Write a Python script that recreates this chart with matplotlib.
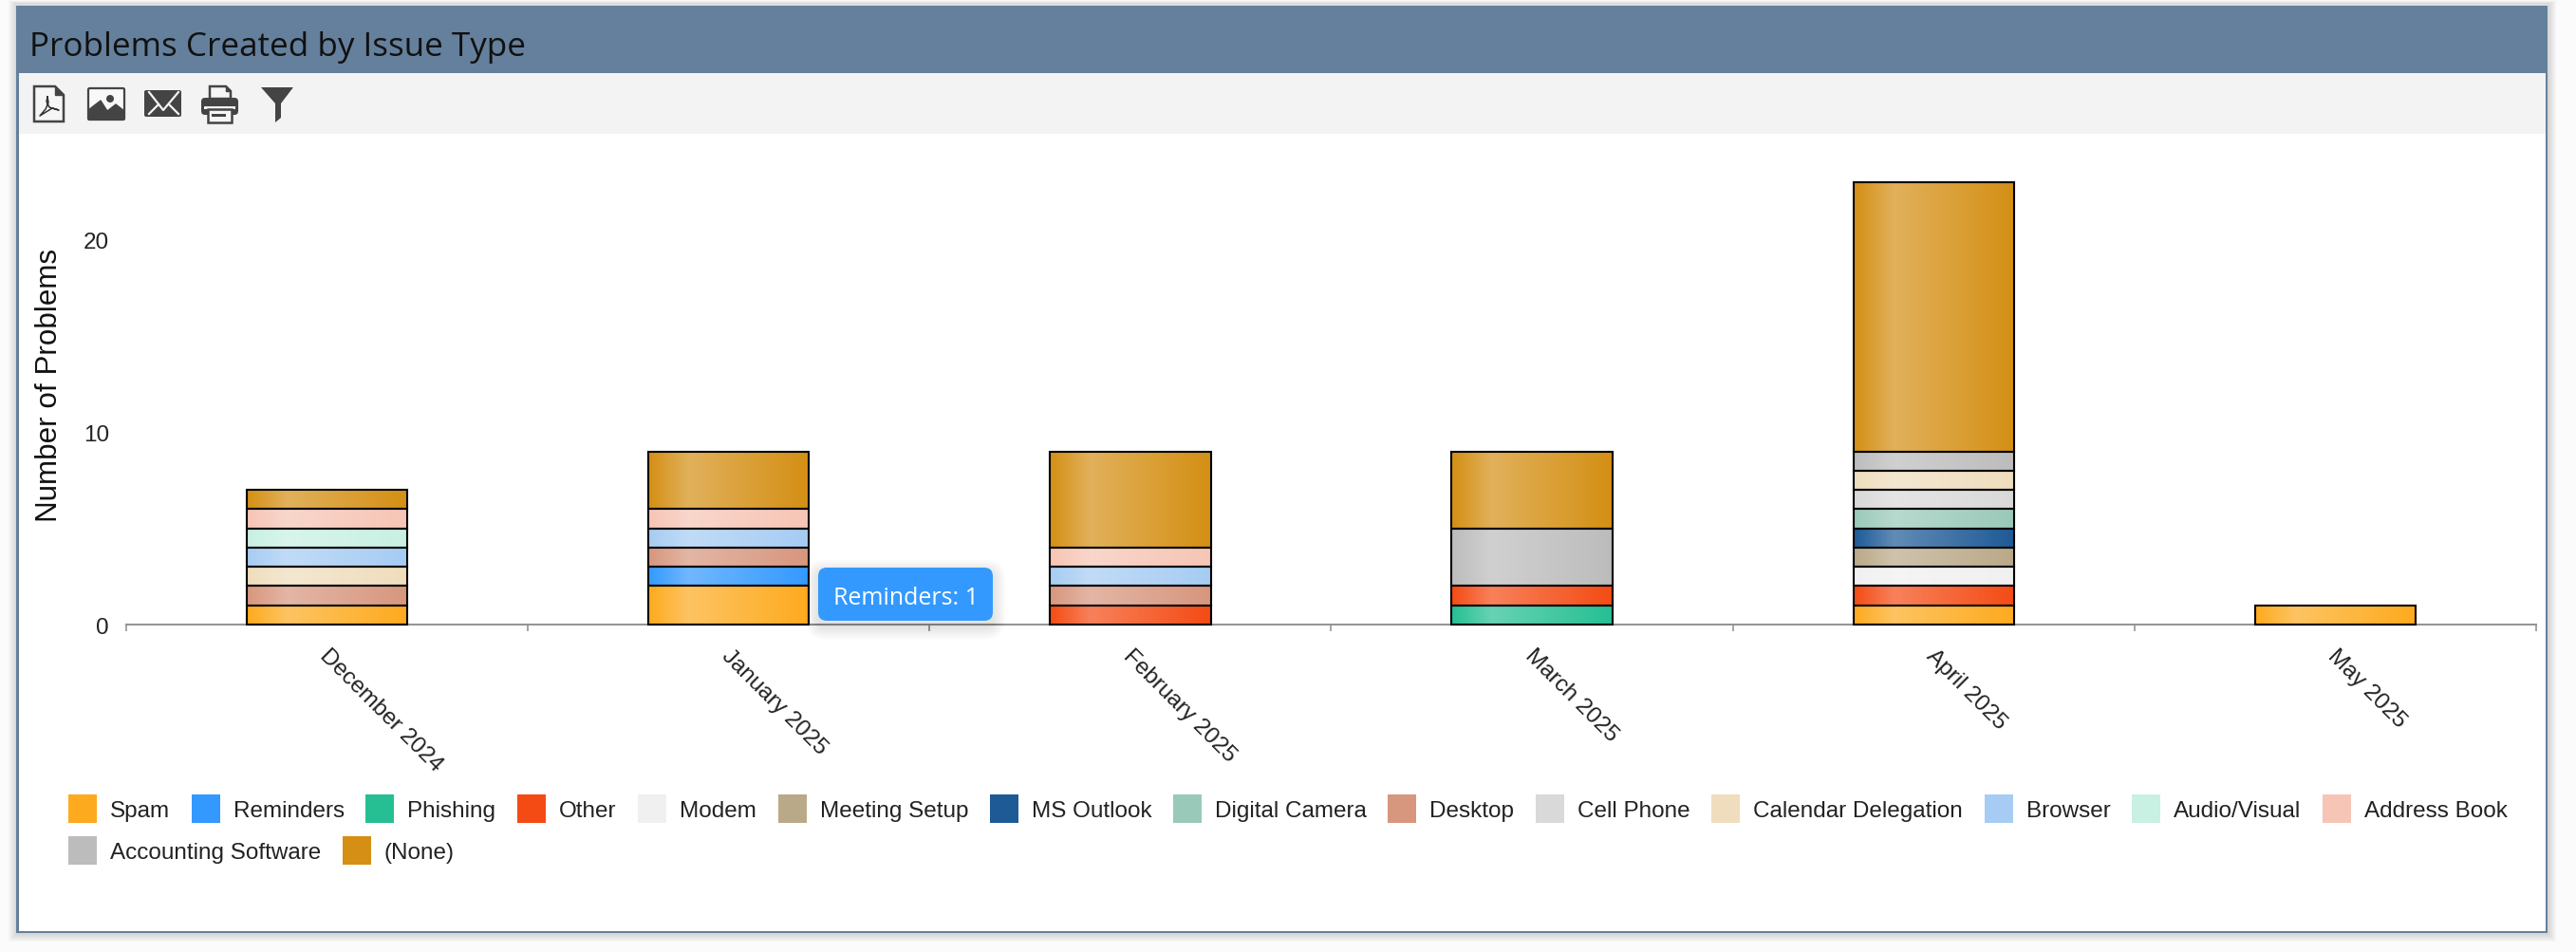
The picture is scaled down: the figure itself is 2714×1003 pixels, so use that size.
import numpy as np
import matplotlib
matplotlib.use("Agg")
import matplotlib.pyplot as plt
from matplotlib.colors import to_rgb
from matplotlib.patches import Rectangle, FancyBboxPatch, Polygon, Circle
from matplotlib.lines import Line2D

# DATA
months = ["December 2024", "January 2025", "February 2025", "March 2025", "April 2025", "May 2025"]

spam = [1, 2, 0, 0, 1, 1]
reminders = [0, 1, 0, 0, 0, 0]
phishing = [0, 0, 0, 1, 0, 0]
other = [0, 0, 1, 1, 1, 0]
modem = [0, 0, 0, 0, 1, 0]
meeting_setup = [0, 0, 0, 0, 1, 0]
ms_outlook = [0, 0, 0, 0, 1, 0]
digital_camera = [0, 0, 0, 0, 1, 0]
desktop = [1, 1, 1, 0, 0, 0]
cell_phone = [0, 0, 0, 0, 1, 0]
calendar_delegation = [1, 0, 0, 0, 1, 0]
browser = [1, 1, 1, 0, 0, 0]
audio_visual = [1, 0, 0, 0, 0, 0]
address_book = [1, 1, 1, 0, 0, 0]
accounting_software = [0, 0, 0, 3, 1, 0]
none_type = [1, 3, 5, 4, 14, 0]

series_names = ["Spam", "Reminders", "Phishing", "Other", "Modem", "Meeting Setup", "MS Outlook",
                "Digital Camera", "Desktop", "Cell Phone", "Calendar Delegation", "Browser",
                "Audio/Visual", "Address Book", "Accounting Software", "(None)"]
series_values = [spam, reminders, phishing, other, modem, meeting_setup, ms_outlook,
                 digital_camera, desktop, cell_phone, calendar_delegation, browser,
                 audio_visual, address_book, accounting_software, none_type]
series_colors = ["#fdaa1e", "#3399ff", "#26bf93", "#f44b14", "#f0f0f0", "#baa988", "#1e5a96",
                 "#99c9b9", "#d7967e", "#d9d9d9", "#efddbd", "#a6ccf3",
                 "#c8f0e3", "#f6c5b5", "#bcbcbc", "#d48f14"]
y_ticks = [0, 10, 20]

# LAYOUT (pixels of the 2714x1004 picture)
W, H = 2714, 1004
AX_LEFT, AX_RIGHT, AX_BASE = 133, 2672, 659
PX_PER_UNIT = 20.26
Y_MAX = 25
PX = 0.72           # pt per px at dpi 100
HEADER = "#64809c"
ICON = "#444444"
TEXT = "#222222"

plt.rcParams['font.family'] = ['Liberation Sans', 'DejaVu Sans']

fig = plt.figure(figsize=(W / 100, H / 100), dpi=100, facecolor="#fbfbfb")


def pixel_axes(zorder):
    a = fig.add_axes([0, 0, 1, 1], zorder=zorder)
    a.set_xlim(0, W)
    a.set_ylim(H, 0)
    a.axis("off")
    return a


bg = pixel_axes(0)

# panel shadow
for i in range(12, 0, -1):
    bg.add_patch(Rectangle((17 - i * 0.7, 5 - i * 0.3), 2668 + i * 1.4, 980 + i * 1.0,
                           fc="black", ec="none", alpha=0.012))

# panel
bg.add_patch(Rectangle((17, 5), 2668, 2, fc="#dddddd", ec="none"))
bg.add_patch(Rectangle((17.3, 7), 2667, 977, fc=HEADER, ec="none"))
bg.add_patch(Rectangle((20, 78), 2662, 904, fc="white", ec="none"))
bg.add_patch(Rectangle((20, 78), 2662, 64, fc="#f3f3f3", ec="none"))
bg.text(31, 50, "Problems Created by Issue Type", fontsize=35 * PX, color="#111111",
        family="Open Sans", ha="left", va="center")

# toolbar icons
# pdf
bg.add_patch(Polygon([(36, 92), (58, 92), (67, 101), (67, 129), (36, 129)], closed=True,
                     fc="#f6f6f6", ec=ICON, lw=1.8))
bg.add_patch(Polygon([(58, 92), (58, 101), (67, 101)], closed=True, fc=ICON, ec=ICON, lw=1))
bg.add_line(Line2D([50, 49, 52, 62, 55, 42, 48, 51, 50], [103, 108, 114, 117, 115, 123, 116, 109, 103],
                   color="#333333", lw=1.1))
# picture
bg.add_patch(FancyBboxPatch((93, 94), 38, 33, boxstyle="round,pad=0,rounding_size=1.5",
                            fc="#f8f8f8", ec=ICON, lw=1.6))
bg.add_patch(Polygon([(93, 117), (106, 107), (113, 118), (122, 111), (131, 118), (131, 127), (93, 127)],
                     closed=True, fc=ICON, ec=ICON, lw=1))
bg.add_patch(Circle((116, 105), 4, fc=ICON, ec="none"))
# mail
bg.add_patch(FancyBboxPatch((152, 96), 39, 28, boxstyle="round,pad=0,rounding_size=2",
                            fc=ICON, ec="none"))
bg.add_line(Line2D([157, 172, 188], [98, 117, 98], color="#f3f3f3", lw=1.6))
bg.add_line(Line2D([157, 167], [121, 111], color="#f3f3f3", lw=1.6))
bg.add_line(Line2D([188, 178], [121, 111], color="#f3f3f3", lw=1.6))
# printer
bg.add_patch(FancyBboxPatch((212, 104), 39, 18, boxstyle="round,pad=0,rounding_size=4",
                            fc=ICON, ec="none"))
bg.add_patch(Polygon([(221, 92), (238, 92), (243, 97), (243, 105), (221, 105)], closed=True,
                     fc="#f6f6f6", ec=ICON, lw=1.8))
bg.add_patch(Polygon([(238, 92), (238, 97), (243, 97)], closed=True, fc=ICON, ec=ICON, lw=1))
bg.add_patch(Rectangle((215, 113), 33, 2.5, fc="#f3f3f3", ec="none"))
bg.add_patch(Rectangle((219, 116), 25, 14, fc="#f6f6f6", ec=ICON, lw=1.8))
bg.add_patch(Rectangle((223, 121), 15, 2.5, fc=ICON, ec="none"))
# funnel
bg.add_patch(Polygon([(275, 93), (309, 93), (296, 110), (296, 125), (290, 130), (290, 110)],
                     closed=True, fc=ICON, ec="none"))

# CHART
ax_height = Y_MAX * PX_PER_UNIT
ax = fig.add_axes([AX_LEFT / W, (H - AX_BASE) / H, (AX_RIGHT - AX_LEFT) / W, ax_height / H], zorder=1)
ax.patch.set_alpha(0)

x = np.arange(len(months))
bottom = np.zeros(len(months))

for name, values, color in zip(series_names, series_values, series_colors):
    values = np.array(values)
    bars = ax.bar(x, values, 0.40, bottom=bottom, color=color, label=name, zorder=2)
    # brillo horizontal sobre cada barra
    base = np.array(to_rgb(color))
    t = np.linspace(0, 1, 200)
    glow = np.where(t < 0.25, t / 0.25, (1 - t) / 0.75) * 0.3
    grad = (base[None, :] * (1 - glow[:, None]) + glow[:, None])[None, :, :]
    for b, v in zip(bars, values):
        if v == 0:
            continue
        ext = (b.get_x(), b.get_x() + b.get_width(), b.get_y(), b.get_y() + b.get_height())
        ax.imshow(grad, extent=ext, aspect="auto", interpolation="bilinear", zorder=2.2)
        ax.add_patch(Rectangle((b.get_x(), b.get_y()), b.get_width(), b.get_height(),
                               fill=False, ec="black", lw=1.5, zorder=3, clip_on=False))
    bottom = bottom + values

ax.set_xlim(-0.5, len(months) - 0.5)
ax.set_ylim(0, Y_MAX)

for s in ["top", "left", "right"]:
    ax.spines[s].set_visible(False)
ax.spines["bottom"].set_color("#959595")
ax.spines["bottom"].set_linewidth(1.5)

ax.set_xticks(np.arange(len(months) + 1) - 0.5)
ax.set_xticklabels([])
ax.tick_params(axis="x", length=5.2, width=1.2, color="#959595")
ax.set_yticks(y_ticks)
ax.set_yticklabels([str(v) for v in y_ticks], fontsize=24.3 * PX, color=TEXT)
ax.tick_params(axis="y", length=0, pad=13)

# etiquetas del eje x giradas
for xi, label in zip(x, months):
    ax.annotate(label, xy=(xi, 0), xytext=(-3, -26 * PX - 2), textcoords="offset points",
                rotation=-45, rotation_mode="anchor", ha="left", va="center",
                fontsize=24.3 * PX, color=TEXT)

bg.text(52, 406, "Number of Problems", rotation=90, ha="center", va="center",
        fontsize=31.4 * PX, color="#111111")

# LEYENDA
lx, ly = 72, 838
renderer = fig.canvas.get_renderer()
for name, color in zip(series_names, series_colors):
    t = bg.text(lx + 44, ly + 17, name, fontsize=24.3 * PX, color=TEXT, ha="left", va="center")
    tw = t.get_window_extent(renderer).width
    if lx + 44 + tw > 2660:
        lx, ly = 72, ly + 44
        t.set_position((lx + 44, ly + 17))
    bg.add_patch(Rectangle((lx, ly), 30, 30, fc=color, ec="none"))
    lx = lx + 44 + tw + 22.6

# TOOLTIP
top = pixel_axes(2)
for i in range(14, 0, -1):
    top.add_patch(FancyBboxPatch((862 - i, 604 - i), 184 + 2 * i, 57 + 2 * i,
                                 boxstyle="round,pad=0,rounding_size=%d" % (9 + i),
                                 fc="black", ec="none", alpha=0.006))
top.add_patch(FancyBboxPatch((862, 599), 184, 56, boxstyle="round,pad=0,rounding_size=9",
                             fc="#3399ff", ec="none"))
top.text(955, 631, "Reminders: 1", fontsize=25 * PX, color="white", family="Open Sans",
         ha="center", va="center")

fig.savefig("out.png", dpi=100)
